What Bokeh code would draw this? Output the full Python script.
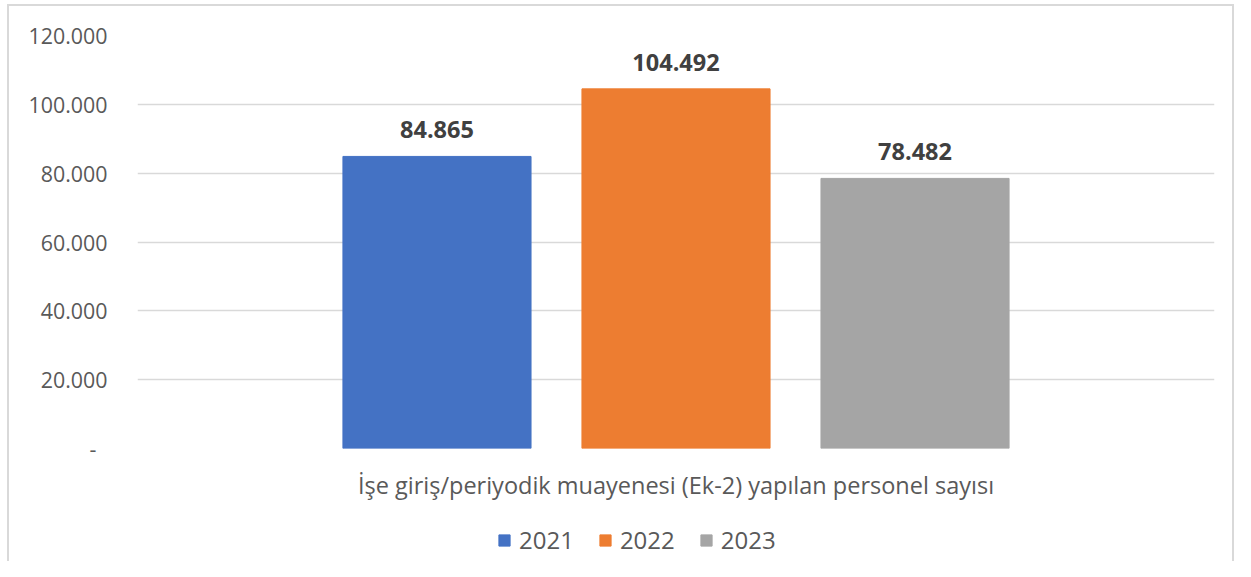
from bokeh.plotting import figure
from bokeh.layouts import column
from bokeh.core.properties import value
from bokeh.models import (ColumnDataSource, FactorRange, LabelSet, Legend, LegendItem,
                          CustomJSTickFormatter, SingleIntervalTicker)
from bokeh.embed import file_html
from bokeh.resources import INLINE

years = ["2021", "2022", "2023"]
values = [84865, 104492, 78482]
colors = ["#4472C4", "#ED7D31", "#A5A5A5"]
category = "İşe giriş/periyodik muayenesi (Ek-2) yapılan personel sayısı"

def fmt(v):
    return f"{v:,}".replace(",", ".")

src = ColumnDataSource(dict(year=years, value=values, color=colors,
                            label=[fmt(v) for v in values]))

FONT = "Open Sans"
BFONT = "Open Sans"
p = figure(width=1235, height=510, output_backend="svg", toolbar_location=None,
           x_range=FactorRange(factors=years, range_padding=0.753,
                               range_padding_units="absolute"),
           y_range=(0, 120000),
           min_border_left=137, min_border_right=21, min_border_top=35,
           min_border_bottom=62)
p.outline_line_color = None

r = p.vbar(x="year", top="value", width=0.787, color="color", source=src)

labels = LabelSet(x="year", y="value", text="label", source=src, y_offset=18,
                  text_align="center", text_baseline="bottom",
                  text_font=value(BFONT), text_font_size="23.5px", text_font_style="bold",
                  text_color="#404040")
p.add_layout(labels)

p.yaxis.ticker = SingleIntervalTicker(interval=20000)
p.yaxis.formatter = CustomJSTickFormatter(code="""
if (tick == 0) return '-\u00a0\u00a0';
return tick.toFixed(0).replace(/\\B(?=(\\d{3})+(?!\\d))/g, '.');
""")
p.yaxis.axis_line_color = None
p.yaxis.major_tick_line_color = None
p.yaxis.minor_tick_line_color = None
p.yaxis.major_label_standoff = 24
p.yaxis.major_label_text_font = FONT
p.yaxis.major_label_text_font_size = "21.4px"
p.yaxis.major_label_text_color = "#595959"

p.xaxis.axis_line_color = None
p.xaxis.major_tick_line_color = None
p.xaxis.major_label_text_font_size = "1px"
p.xaxis.major_label_text_alpha = 0
p.xaxis.axis_label = category
p.xaxis.axis_label_text_font = FONT
p.xaxis.axis_label_text_font_size = "23.5px"
p.xaxis.axis_label_text_font_style = "normal"
p.xaxis.axis_label_text_color = "#595959"
p.xaxis.axis_label_standoff = 14

p.xgrid.grid_line_color = None
p.ygrid.grid_line_color = "#D9D9D9"
p.ygrid.grid_line_width = 1.5

# legend strip
p2 = figure(width=1235, height=51, output_backend="svg", toolbar_location=None,
            x_range=(0, 1), y_range=(0, 1), min_border_left=0, min_border_right=0,
            min_border_top=9, min_border_bottom=0)
p2.axis.visible = False
p2.grid.visible = False
p2.outline_line_color = None
items = []
for i, y in enumerate(years):
    rr = p2.vbar(x=[-5], top=[-5], width=0.01, color=colors[i])
    items.append(LegendItem(label=y, renderers=[rr]))
legend = Legend(items=items, orientation="horizontal", location=(360, 5),
                glyph_width=14, glyph_height=14, label_standoff=8, spacing=24,
                label_text_font=FONT, label_text_font_size="24px",
                label_text_color="#595959", border_line_color=None,
                background_fill_alpha=0, padding=0, margin=0)
p2.add_layout(legend)

layout = column(p, p2, spacing=0)
layout.stylesheets = [""":host { position: relative; }
:host::after { content: ''; position: absolute; left: 7px; top: 4px; right: 1px; bottom: 0px;
  border: 2px solid #D9D9D9; border-bottom: none; pointer-events: none; }"""]

open("out.html", "w").write(file_html(layout, INLINE))
